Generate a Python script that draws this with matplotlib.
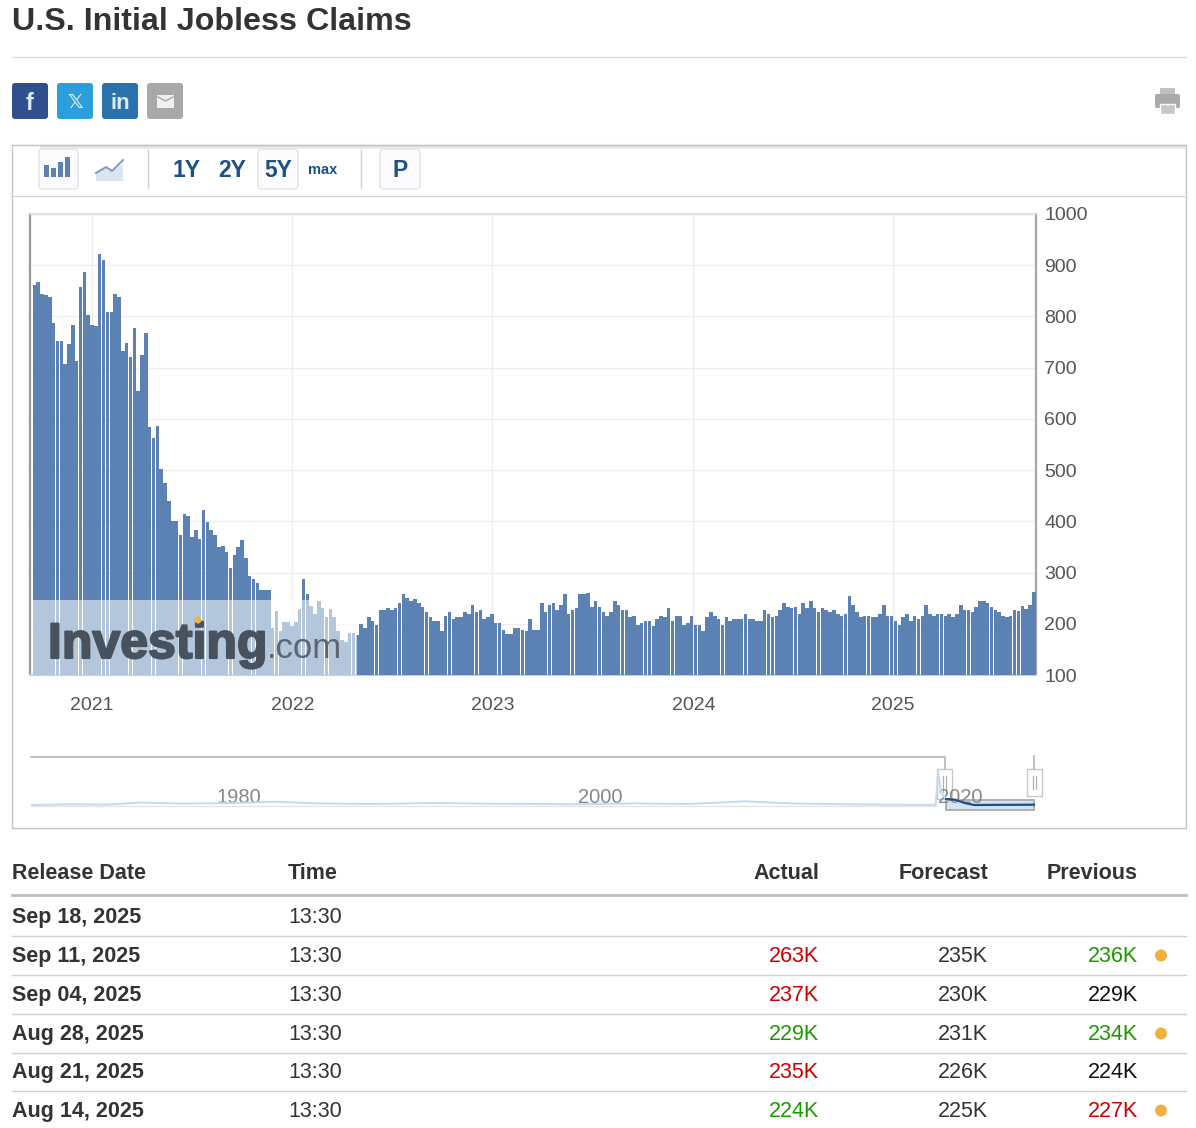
import numpy as np, pandas as pd
import matplotlib
matplotlib.use("Agg")
import matplotlib.pyplot as plt
import matplotlib.patheffects as pe
from matplotlib.patches import FancyBboxPatch, Rectangle, Circle, Polygon

plt.rcParams['font.family'] = ['Liberation Sans', 'DejaVu Sans']

claims = [861,868,844,841,837,788,753,753,708,746,784,713,858,886,802,784,781,921,911,809,809,844,837,732,749,721,777,654,724,767,
584,563,587,503,475,440,401,401,374,415,411,370,384,366,423,398,384,374,349,352,341,308,335,349,363,328,293,287,280,266,266,266,
192,224,185,203,203,196,203,228,287,259,235,220,245,231,213,228,213,185,168,164,182,182,178,199,191,213,205,198,226,226,230,226,
230,241,258,251,244,248,241,233,223,213,205,205,185,216,223,209,213,213,223,220,237,223,226,209,213,220,202,202,188,181,181,191,
191,188,185,209,188,188,241,223,237,241,226,237,258,220,226,230,258,258,261,233,244,233,223,216,223,244,237,226,226,213,216,198,
202,205,205,195,209,216,213,230,205,216,216,198,202,216,198,198,185,213,
223,216,209,198,213,205,209,209,209,219,209,209,205,205,226,219,213,216,226,241,233,230,233,219,241,230,244,230,223,230,226,223,
226,219,216,219,255,237,223,213,216,216,213,213,219,237,216,216,205,198,213,219,205,216,209,216,237,219,216,219,219,216,219,213,
219,237,226,226,223,233,244,244,241,233,226,223,216,213,216,227,224,235,229,237,263]
last_date = pd.Timestamp('2025-09-11')
dates = pd.date_range(end=last_date, periods=len(claims), freq='7D')
y_ticks = [100,200,300,400,500,600,700,800,900,1000]
year_labels = ['2021','2022','2023','2024','2025']
year_ticks = pd.to_datetime(['2020-12-31','2021-12-31','2022-12-30','2023-12-31','2024-12-29'])

mini_years = [1968.7,1971,1973,1975,1977,1980,1982.5,1985,1988,1991.5,1995,2000,2003,2006,2009.3,2012,2015,2019,2020.1,2020.25,2020.4,2020.7]
mini_vals = [200,280,240,480,360,400,560,380,310,420,340,280,380,310,600,370,280,215,220,3800,1600,860]
dark_years = [2020.7,2021.2,2021.8,2022.3,2023,2024,2025,2025.7]
dark_vals = [860,780,400,200,210,220,225,235]
mini_ticks = [1980,2000,2020]

header = ['Release Date','Time','Actual','Forecast','Previous']
rel = ['Sep 18, 2025','Sep 11, 2025','Sep 04, 2025','Aug 28, 2025','Aug 21, 2025','Aug 14, 2025']
actual = ['','263K','237K','229K','235K','224K']
forecast = ['','235K','230K','231K','226K','225K']
previous = ['','236K','229K','234K','224K','227K']
RED,GRN,BLK='#cc0000','#1a9a00','#111111'
actual_c = [BLK,RED,RED,GRN,RED,GRN]
prev_c = [BLK,GRN,BLK,GRN,BLK,RED]
dot = [False,True,False,True,False,True]

W,H=1196,1128
fig=plt.figure(figsize=(W/100,H/100),dpi=100,facecolor='white')
def axpx(l,t,r,b,**k):
    return fig.add_axes([l/W,1-b/H,(r-l)/W,(b-t)/H],**k)

# main chart
ax=axpx(30,214,1036,675)
ax.bar(dates,claims,width=6.4,color='#5b82b2',linewidth=0,zorder=3)
ax.set_ylim(100,1000)
ax.set_xlim(last_date-pd.Timedelta(days=1828),last_date+pd.Timedelta(days=4))
ax.yaxis.tick_right()
ax.set_yticks(y_ticks)
ax.set_xticks(year_ticks); ax.set_xticklabels(year_labels)
ax.tick_params(axis='both',length=0,labelsize=14,labelcolor='#555555')
ax.tick_params(axis='y',pad=6); ax.tick_params(axis='x',pad=16)
ax.grid(True,color='#eeeeee',lw=1,zorder=0)
for s,c,lw in (('left','#9a9a9a',1.6),('right','#a5a5a5',1.6),('top','#dddddd',1.2),('bottom','#c5d0e0',1.5)):
    ax.spines[s].set_color(c); ax.spines[s].set_linewidth(lw)

# page furniture on a pixel overlay
o=fig.add_axes([0,0,1,1],facecolor='none')
o.set_xlim(0,W); o.set_ylim(H,0); o.axis('off')
def T(x,y,s,size=15.5,c='#333333',w='normal',ha='left',**k):
    return o.text(x,y+size*0.5,s,fontsize=size,color=c,fontweight=w,ha=ha,va='baseline',**k)
def RB(x,y,w,h,fc,ec='none',r=3,lw=1,z=2):
    o.add_patch(FancyBboxPatch((x+r,y+r),w-2*r,h-2*r,boxstyle=f'round,pad={r}',fc=fc,ec=ec,lw=lw,zorder=z))

# navigator series above the overlay
nv=axpx(31,757,1035,811,zorder=5)
nv.patch.set_alpha(0)
nv.set_xlim(1968.7,2025.75); nv.set_ylim(-460,5480)
nv.plot(mini_years,mini_vals,color='#c5d8ee',lw=1.4,zorder=3)
nv.plot(dark_years,dark_vals,color='#1f4e85',lw=1.6,zorder=4)
nv.axis('off')

# title
T(12,18.5,'U.S. Initial Jobless Claims',size=23.2,w='bold')
o.plot([12,1186],[57,57],color='#dddddd',lw=1)

# social buttons
for x,col,lab,sz in ((12,'#2f4f8f','f',17),(57,'#2a9fdb','𝕏',14),(102,'#2a72ad','in',16)):
    RB(x,83,36,36,col)
    T(x+18,101,lab,size=sz,c='#dfe9f3',w='bold',ha='center')
RB(147,83,36,36,'#a8a8a8')
o.add_patch(Rectangle((157,95),17,13,fc='#f0f0f0',ec='none',zorder=3))
o.plot([158,165.5,173],[97,101,97],color='#a8a8a8',lw=1,zorder=4)
# printer
o.add_patch(Rectangle((1160,88),15,6,fc='#c0c0c0'))
RB(1155,94,25,14,'#a9a9a9',r=2)
o.add_patch(Rectangle((1160,104),15,10,fc='#c8c8c8',ec='white',lw=1,zorder=3))

# chart frame and toolbar
for i,a in enumerate((.03,.05,.08,.12)):
    o.add_patch(Rectangle((40,143+i*1.0),1146,3,fc='#888888',alpha=a,ec='none',zorder=0))
o.plot([12,12,1186,1186,12],[145,828,828,145,145],color='#c4c4c4',lw=1,zorder=1)
o.plot([12,1186],[196,196],color='#d5d5d5',lw=1)
for x in (148,361):
    o.plot([x,x],[150,188],color='#d0d0d0',lw=1)
for x,y,w in ((39,149,39),(258,149,40),(380,149,40)):
    RB(x,y,w,40,'#fbfbfd',ec='#dfe2e8',r=4)
for i,(bx,bh) in enumerate(((43,12),(50,9),(57,15),(64,20))):
    o.add_patch(Rectangle((bx+1,177-bh),5,bh,fc='#5b82b2',ec='none',zorder=3))
o.add_patch(Polygon([(96,173),(106,167),(112,171),(123,163),(123,181),(96,181)],fc='#dbe5f0',ec='none',zorder=3))
o.plot([96,106,112,123],[173,167,171,160],color='#7b9cc0',lw=1.4,zorder=3)
for x,s,sz in ((187,'1Y',16.5),(232,'2Y',16.5),(278,'5Y',16.5),(323,'max',10.5),(400,'P',16.5)):
    T(x,168.5,s,size=sz,c='#1c5088',w='bold',ha='center',zorder=4)

# watermark
o.add_patch(Rectangle((33,600),324,75,fc='white',alpha=.55,ec='none',zorder=5))
T(48,640,'Investing',size=36,c='#48525e',w='bold',zorder=6,
  path_effects=[pe.withStroke(linewidth=1.5,foreground='#48525e')])
T(267,645,'.com',size=25,c='#5c6671',zorder=6)
o.add_patch(Circle((198,620),3.5,fc='#f0b840',ec='none',zorder=7))

# navigator furniture
o.plot([31,945,945],[757,757,769],color='#b5b5b5',lw=1.2,zorder=1)
o.plot([31,937],[806,806],color='#e2e2e2',lw=.9,zorder=1)
o.add_patch(Rectangle((946,800),88,10,fc='#cfe4f7',ec='#b0b0b0',lw=1.4,zorder=0.9))
o.plot([1034,1034],[756,769],color='#b5b5b5',lw=1.2)
for x,y0,y1 in ((937,769,799),(1027,769,796)):
    o.add_patch(Rectangle((x,y0),15,y1-y0,fc='#ffffff',alpha=.75,ec='#b5b5b5',lw=1,zorder=3))
    o.plot([x+6,x+6],[y0+7,y1-7],color='#b0b0b0',lw=.9,zorder=3)
    o.plot([x+9,x+9],[y0+7,y1-7],color='#b0b0b0',lw=.9,zorder=3)
for lab,x in zip(mini_ticks,(239,600,960)):
    T(x,796,str(lab),size=14.5,c='#888888',ha='center',zorder=4)

# table
hx=[(12,'left'),(288,'left'),(819,'right'),(988,'right'),(1138,'right')]
for (x,ha),s in zip(hx,header):
    T(x,871.5,s,size=15.5,w='bold',ha=ha)
o.plot([12,1186],[895,895],color='#bdbdbd',lw=2)
rows=[916,955,994,1033,1071,1110]
for i,y in enumerate(rows):
    T(12,y-1,rel[i],size=15.5,w='bold')
    T(288,y-1,'13:30',size=15.5)
    T(819,y-1,actual[i],size=15.5,c=actual_c[i],ha='right')
    T(988,y-1,forecast[i],size=15.5,ha='right')
    T(1138,y-1,previous[i],size=15.5,c=prev_c[i],ha='right')
    if dot[i]:
        o.add_patch(Circle((1161,y+.5),6,fc='#f0b040',ec='none'))
    if i<5:
        o.plot([12,1186],[y+19.5,y+19.5],color='#d0d0d0',lw=1)

fig.savefig('out.png',dpi=100)
